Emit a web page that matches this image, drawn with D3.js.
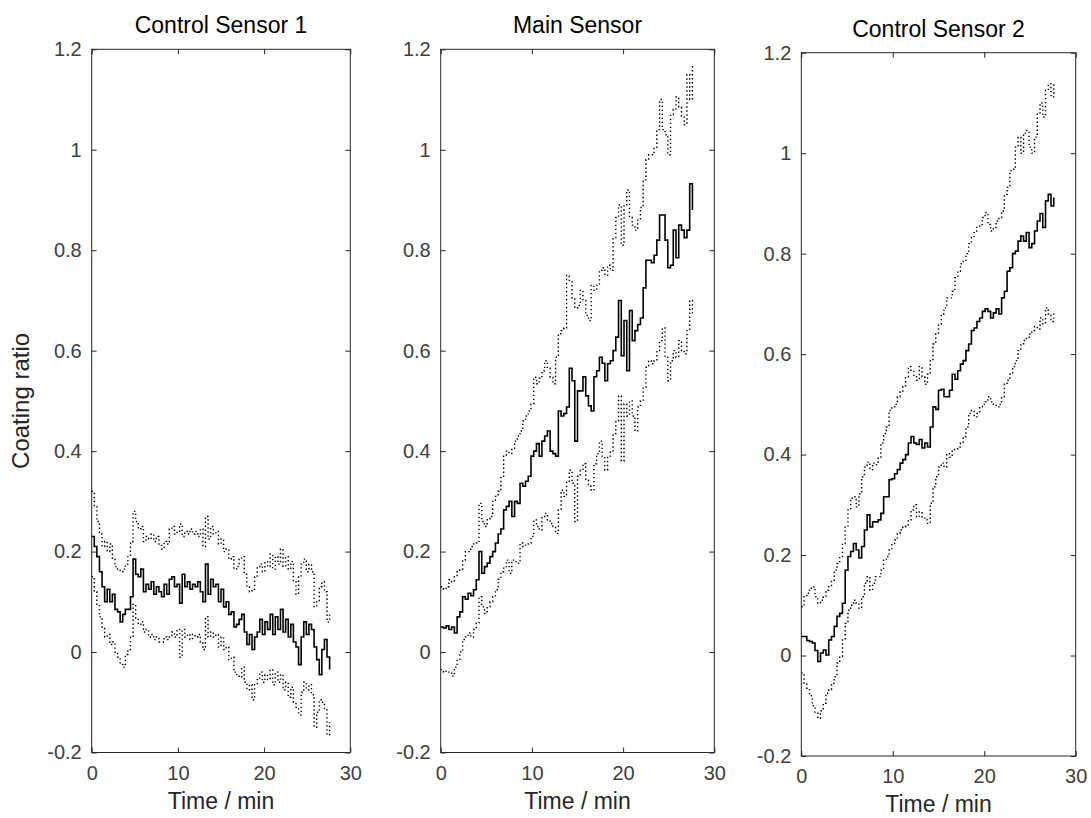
<!DOCTYPE html>
<html>
<head>
<meta charset="utf-8">
<script src="https://cdn.jsdelivr.net/npm/d3@7"></script>
<style>
  body { margin: 0; background: #fff; }
  svg { display: block; font-family: "Liberation Sans", Arial, Helvetica, sans-serif; }
</style>
</head>
<body>
<svg id="chart" width="1091" height="818"></svg>
<script>
// sample times (min), shared by all three sensors
const time = [
  0, 0.3, 0.6, 0.9, 1.2, 1.5, 1.8, 2.1, 2.4, 2.7,
  3.0, 3.3, 3.6, 3.9, 4.2, 4.5, 4.8, 5.1, 5.4, 5.7,
  6.0, 6.3, 6.6, 6.9, 7.2, 7.5, 7.8, 8.1, 8.4, 8.7,
  9.0, 9.3, 9.6, 9.9, 10.2, 10.5, 10.8, 11.1, 11.4, 11.7,
  12.0, 12.3, 12.6, 12.9, 13.2, 13.5, 13.8, 14.1, 14.4, 14.7,
  15.0, 15.3, 15.6, 15.9, 16.2, 16.5, 16.8, 17.1, 17.4, 17.7,
  18.0, 18.3, 18.6, 18.9, 19.2, 19.5, 19.8, 20.1, 20.4, 20.7,
  21.0, 21.3, 21.6, 21.9, 22.2, 22.5, 22.8, 23.1, 23.4, 23.7,
  24.0, 24.3, 24.6, 24.9, 25.2, 25.5, 25.8, 26.1, 26.4, 26.7,
  27.0, 27.3, 27.6
];

// Control Sensor 1
const control1Mean = [
  0.23, 0.21, 0.19, 0.16, 0.13, 0.10, 0.125, 0.10, 0.115, 0.085,
  0.08, 0.06, 0.075, 0.085, 0.085, 0.11, 0.185, 0.155, 0.15, 0.165,
  0.12, 0.135, 0.125, 0.14, 0.115, 0.13, 0.12, 0.11, 0.135, 0.115,
  0.145, 0.15, 0.13, 0.135, 0.097, 0.155, 0.13, 0.14, 0.125, 0.135,
  0.13, 0.14, 0.12, 0.10, 0.175, 0.115, 0.145, 0.13, 0.135, 0.10,
  0.125, 0.09, 0.10, 0.075, 0.08, 0.05, 0.055, 0.065, 0.075, 0.04,
  0.015, 0.035, 0.005, 0.03, 0.04, 0.065, 0.035, 0.06, 0.045, 0.075,
  0.035, 0.07, 0.045, 0.085, 0.04, 0.065, 0.03, 0.055, 0.02, 0.01,
  -0.025, 0.03, 0.06, 0.035, 0.055, 0.045, 0.01, -0.015, -0.045, 0.005,
  0.025, -0.01, -0.035
];
const control1Upper = [
  0.32, 0.29, 0.26, 0.235, 0.21, 0.22, 0.20, 0.215, 0.185, 0.17,
  0.165, 0.16, 0.165, 0.175, 0.19, 0.22, 0.28, 0.26, 0.245, 0.25,
  0.22, 0.23, 0.225, 0.235, 0.22, 0.23, 0.215, 0.205, 0.22, 0.215,
  0.245, 0.25, 0.235, 0.24, 0.255, 0.23, 0.24, 0.235, 0.245, 0.235,
  0.24, 0.23, 0.245, 0.21, 0.27, 0.225, 0.25, 0.235, 0.24, 0.215,
  0.225, 0.20, 0.205, 0.185, 0.19, 0.165, 0.17, 0.185, 0.19, 0.155,
  0.13, 0.12, 0.125, 0.15, 0.17, 0.175, 0.16, 0.18, 0.17, 0.195,
  0.165, 0.19, 0.175, 0.205, 0.17, 0.19, 0.165, 0.18, 0.14, 0.115,
  0.15, 0.175, 0.185, 0.16, 0.175, 0.16, 0.09, 0.10, 0.13, 0.14,
  0.12, 0.06, 0.075
];
const control1Lower = [
  0.15, 0.12, 0.095, 0.07, 0.05, 0.03, 0.035, 0.015, 0.02, 0.0,
  -0.01, -0.025, -0.03, -0.005, 0.005, 0.03, 0.095, 0.065, 0.055, 0.06,
  0.04, 0.045, 0.03, 0.035, 0.025, 0.03, 0.02, 0.02, 0.03, 0.025,
  0.03, 0.04, 0.03, 0.045, -0.01, 0.045, 0.03, 0.035, 0.025, 0.035,
  0.03, 0.035, 0.02, 0.005, 0.07, 0.03, 0.04, 0.03, 0.035, 0.01,
  0.03, 0.005, 0.01, -0.015, -0.01, -0.04, -0.045, -0.05, -0.03, -0.06,
  -0.075, -0.065, -0.095, -0.065, -0.055, -0.04, -0.06, -0.045, -0.055, -0.035,
  -0.065, -0.04, -0.06, -0.045, -0.075, -0.06, -0.09, -0.07, -0.10, -0.11,
  -0.125, -0.08, -0.06, -0.075, -0.065, -0.085, -0.15, -0.12, -0.095, -0.10,
  -0.115, -0.165, -0.14
];

// Main Sensor
const mainMean = [
  0.05, 0.048, 0.052, 0.045, 0.05, 0.038, 0.07, 0.08, 0.11, 0.105,
  0.117, 0.112, 0.124, 0.144, 0.20, 0.157, 0.17, 0.177, 0.19, 0.20,
  0.217, 0.235, 0.245, 0.283, 0.29, 0.30, 0.27, 0.30, 0.296, 0.336,
  0.33, 0.34, 0.35, 0.39, 0.40, 0.415, 0.39, 0.42, 0.43, 0.44,
  0.40, 0.395, 0.39, 0.48, 0.47, 0.475, 0.488, 0.565, 0.54, 0.42,
  0.52, 0.52, 0.548, 0.51, 0.49, 0.48, 0.548, 0.56, 0.587, 0.575,
  0.54, 0.574, 0.58, 0.60, 0.627, 0.70, 0.59, 0.66, 0.56, 0.68,
  0.62, 0.64, 0.652, 0.665, 0.725, 0.78, 0.78, 0.775, 0.79, 0.82,
  0.87, 0.87, 0.82, 0.765, 0.77, 0.84, 0.785, 0.85, 0.84, 0.825,
  0.84, 0.932, 0.88
];
const mainUpper = [
  0.13, 0.125, 0.13, 0.144, 0.14, 0.15, 0.16, 0.164, 0.183, 0.20,
  0.20, 0.21, 0.215, 0.217, 0.296, 0.26, 0.25, 0.265, 0.27, 0.30,
  0.31, 0.32, 0.35, 0.39, 0.40, 0.395, 0.405, 0.42, 0.43, 0.44,
  0.46, 0.47, 0.48, 0.494, 0.547, 0.534, 0.545, 0.56, 0.58, 0.565,
  0.547, 0.534, 0.587, 0.634, 0.64, 0.645, 0.75, 0.74, 0.705, 0.685,
  0.69, 0.72, 0.70, 0.67, 0.66, 0.73, 0.72, 0.73, 0.76, 0.765,
  0.75, 0.77, 0.76, 0.825, 0.865, 0.89, 0.81, 0.89, 0.92, 0.865,
  0.85, 0.84, 0.86, 0.885, 0.94, 0.98, 0.99, 0.99, 1.005, 1.04,
  1.10, 1.04, 1.03, 0.99, 1.07, 1.08, 1.105, 1.085, 1.065, 1.05,
  1.15, 1.10, 1.17
];
const mainLower = [
  -0.035, -0.04, -0.038, -0.042, -0.048, -0.03, -0.015, 0.0, 0.025, 0.03,
  0.038, 0.03, 0.045, 0.058, 0.11, 0.09, 0.077, 0.09, 0.10, 0.11,
  0.124, 0.145, 0.16, 0.17, 0.183, 0.157, 0.183, 0.18, 0.177, 0.217,
  0.21, 0.215, 0.217, 0.23, 0.263, 0.25, 0.243, 0.27, 0.276, 0.263,
  0.256, 0.25, 0.236, 0.283, 0.322, 0.31, 0.34, 0.362, 0.336, 0.26,
  0.35, 0.362, 0.375, 0.342, 0.33, 0.322, 0.375, 0.395, 0.42, 0.39,
  0.362, 0.39, 0.40, 0.435, 0.46, 0.51, 0.38, 0.494, 0.47, 0.50,
  0.47, 0.44, 0.488, 0.50, 0.527, 0.567, 0.58, 0.574, 0.58, 0.60,
  0.62, 0.645, 0.587, 0.54, 0.58, 0.60, 0.587, 0.62, 0.60, 0.594,
  0.64, 0.70, 0.67
];

// Control Sensor 2
const control2Mean = [
  0.038, 0.038, 0.03, 0.028, 0.025, 0.01, -0.012, 0.005, 0.011, 0.001,
  0.031, 0.038, 0.058, 0.078, 0.084, 0.104, 0.17, 0.197, 0.207, 0.223,
  0.21, 0.194, 0.217, 0.25, 0.28, 0.256, 0.266, 0.266, 0.27, 0.283,
  0.316, 0.316, 0.35, 0.352, 0.362, 0.37, 0.383, 0.39, 0.40, 0.423,
  0.436, 0.423, 0.42, 0.43, 0.413, 0.423, 0.415, 0.455, 0.495, 0.49,
  0.528, 0.53, 0.515, 0.515, 0.528, 0.56, 0.55, 0.567, 0.58, 0.587,
  0.607, 0.62, 0.647, 0.652, 0.665, 0.672, 0.685, 0.69, 0.685, 0.672,
  0.682, 0.69, 0.68, 0.712, 0.725, 0.765, 0.772, 0.80, 0.805, 0.825,
  0.835, 0.825, 0.842, 0.812, 0.82, 0.845, 0.865, 0.88, 0.852, 0.905,
  0.918, 0.895, 0.912
];
const control2Upper = [
  0.097, 0.117, 0.124, 0.134, 0.137, 0.117, 0.104, 0.11, 0.117, 0.13,
  0.137, 0.15, 0.17, 0.183, 0.197, 0.223, 0.256, 0.29, 0.313, 0.316,
  0.296, 0.322, 0.356, 0.375, 0.385, 0.37, 0.383, 0.38, 0.395, 0.423,
  0.442, 0.455, 0.488, 0.495, 0.50, 0.515, 0.525, 0.535, 0.555, 0.575,
  0.568, 0.555, 0.548, 0.575, 0.555, 0.54, 0.56, 0.587, 0.62, 0.64,
  0.66, 0.68, 0.692, 0.712, 0.712, 0.725, 0.752, 0.765, 0.78, 0.785,
  0.80, 0.82, 0.832, 0.845, 0.855, 0.858, 0.872, 0.882, 0.858, 0.845,
  0.852, 0.865, 0.872, 0.885, 0.918, 0.932, 0.965, 0.968, 1.012, 1.032,
  1.0, 1.04, 1.045, 1.012, 1.0, 1.032, 1.08, 1.10, 1.072, 1.125,
  1.138, 1.112, 1.138
];
const control2Lower = [
  -0.035, -0.055, -0.065, -0.08, -0.10, -0.115, -0.125, -0.11, -0.095, -0.075,
  -0.068, -0.055, -0.042, -0.015, -0.002, 0.031, 0.064, 0.09, 0.10, 0.11,
  0.104, 0.094, 0.117, 0.144, 0.157, 0.13, 0.144, 0.157, 0.157, 0.17,
  0.19, 0.197, 0.21, 0.223, 0.23, 0.243, 0.25, 0.256, 0.26, 0.27,
  0.29, 0.30, 0.276, 0.286, 0.276, 0.27, 0.263, 0.303, 0.336, 0.356,
  0.375, 0.383, 0.375, 0.402, 0.395, 0.41, 0.41, 0.415, 0.423, 0.436,
  0.455, 0.482, 0.488, 0.475, 0.482, 0.495, 0.50, 0.505, 0.515, 0.505,
  0.50, 0.495, 0.50, 0.515, 0.54, 0.548, 0.56, 0.575, 0.587, 0.607,
  0.62, 0.627, 0.633, 0.64, 0.647, 0.655, 0.65, 0.672, 0.66, 0.692,
  0.68, 0.665, 0.685
];

const xTicks = [0, 10, 20, 30];
const yTicks = [-0.2, 0, 0.2, 0.4, 0.6, 0.8, 1, 1.2];
const yTickLabels = ["-0.2", "0", "0.2", "0.4", "0.6", "0.8", "1", "1.2"];
const titles = ["Control Sensor 1", "Main Sensor", "Control Sensor 2"];

// axes boxes, in pixels
const panels = [
  { title: titles[0], left: 91.7, right: 350.3, top: 49.3, bottom: 752.5,
    mean: control1Mean, upper: control1Upper, lower: control1Lower },
  { title: titles[1], left: 440.7, right: 714.3, top: 49.3, bottom: 752.5,
    mean: mainMean, upper: mainUpper, lower: mainLower },
  { title: titles[2], left: 801.3, right: 1075.7, top: 52.7, bottom: 756,
    mean: control2Mean, upper: control2Upper, lower: control2Lower }
];

const axisColor = '#262626';
const tickTextColor = '#404040';
const tickLen = 5;

const svg = d3.select('#chart');

panels.forEach((p, idx) => {
  const x = d3.scaleLinear().domain([0, 30]).range([p.left, p.right]);
  const y = d3.scaleLinear().domain([-0.2, 1.2]).range([p.bottom, p.top]);

  const g = svg.append('g').attr('class', 'panel');

  // data lines
  const line = d3.line()
    .x((d, i) => x(time[i]))
    .y(d => y(d))
    .curve(d3.curveStepAfter);

  [p.upper, p.lower].forEach(series => {
    g.append('path')
      .datum(series)
      .attr('d', line)
      .attr('fill', 'none')
      .attr('stroke', '#000')
      .attr('stroke-width', 1.4)
      .attr('stroke-dasharray', '1.4 2.6');
  });

  g.append('path')
    .datum(p.mean)
    .attr('d', line)
    .attr('fill', 'none')
    .attr('stroke', '#000')
    .attr('stroke-width', 1.6);

  // axes: ticks point inward on all four sides
  const styleAxis = sel => {
    sel.select('.domain').remove();
    sel.selectAll('line').attr('stroke', axisColor);
    sel.selectAll('text')
      .attr('fill', tickTextColor)
      .style('font-size', '20px')
      .style('font-family', '"Liberation Sans", Arial, sans-serif');
  };

  g.append('g')
    .attr('transform', `translate(0,${p.bottom})`)
    .call(d3.axisBottom(x).tickValues(xTicks).tickFormat(d3.format('d'))
      .tickSizeInner(-tickLen).tickSizeOuter(0).tickPadding(12))
    .call(styleAxis)
    .selectAll('text').attr('dy', '0.71em').attr('y', 13);

  g.append('g')
    .attr('transform', `translate(0,${p.top})`)
    .call(d3.axisTop(x).tickValues(xTicks).tickFormat('')
      .tickSizeInner(-tickLen).tickSizeOuter(0))
    .call(styleAxis);

  g.append('g')
    .attr('transform', `translate(${p.left},0)`)
    .call(d3.axisLeft(y).tickValues(yTicks).tickFormat((d, i) => yTickLabels[i])
      .tickSizeInner(-tickLen).tickSizeOuter(0).tickPadding(10))
    .call(styleAxis);

  g.append('g')
    .attr('transform', `translate(${p.right},0)`)
    .call(d3.axisRight(y).tickValues(yTicks).tickFormat('')
      .tickSizeInner(-tickLen).tickSizeOuter(0))
    .call(styleAxis);

  // box
  g.append('rect')
    .attr('x', p.left)
    .attr('y', p.top)
    .attr('width', p.right - p.left)
    .attr('height', p.bottom - p.top)
    .attr('fill', 'none')
    .attr('stroke', axisColor)
    .attr('stroke-width', 1);

  // title
  g.append('text')
    .attr('x', (p.left + p.right) / 2)
    .attr('y', p.top - 16)
    .attr('text-anchor', 'middle')
    .attr('fill', '#000')
    .style('font-size', '23px')
    .text(p.title);

  // x label
  g.append('text')
    .attr('x', (p.left + p.right) / 2)
    .attr('y', p.bottom + 56)
    .attr('text-anchor', 'middle')
    .attr('fill', axisColor)
    .style('font-size', '23px')
    .text('Time / min');

  if (idx === 0) {
    g.append('text')
      .attr('transform', `translate(29,${(p.top + p.bottom) / 2}) rotate(-90)`)
      .attr('text-anchor', 'middle')
      .attr('fill', axisColor)
      .style('font-size', '24px')
      .text('Coating ratio');
  }
});
</script>
</body>
</html>
